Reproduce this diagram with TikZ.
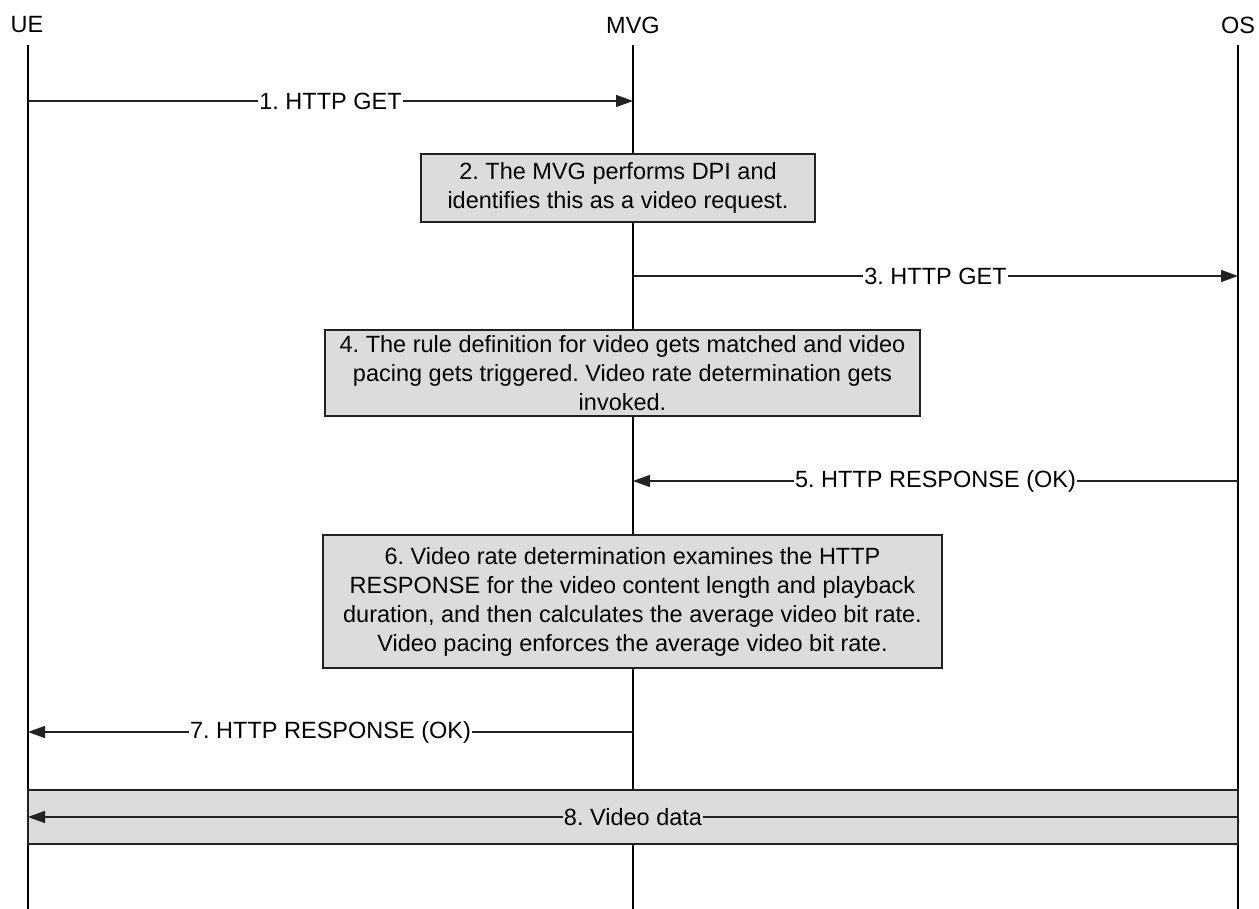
\documentclass[tikz,border=0pt]{standalone}
\usepackage{fontspec}
\setmainfont{Liberation Sans}
\usetikzlibrary{arrows.meta}
\definecolor{boxgray}{HTML}{DCDCDC}
\definecolor{edge}{HTML}{222222}
\frenchspacing
\begin{document}
\begin{tikzpicture}[x=1pt,y=-1pt,
  font=\fontsize{23.5}{29}\selectfont,
  lifeline/.style={line width=2.6pt, black},
  msg/.style={line width=1.5pt, edge, -{Triangle[length=17pt,width=12pt]}},
  lbl/.style={fill=white, inner sep=1pt, text=black, midway},
  actbox/.style={draw=edge, line width=1.5pt, fill=boxgray, align=center, inner sep=0pt},
  head/.style={inner sep=0pt}]
\useasboundingbox (0,0) rectangle (1259,909);
% heads
\node[head] (ue) at (27,25) {UE};
\node[head] (mvg) at (633,25) {MVG};
\node[head] (os) at (1238,25) {OS};
% lifeline ends
\coordinate (ueT) at (28,45);  \coordinate (ueB) at (28,909);
\coordinate (mvgT) at (633,45); \coordinate (mvgB) at (633,909);
\coordinate (osT) at (1238,45); \coordinate (osB) at (1238,909);
\draw[lifeline] (ueT) -- (ueB);
\draw[lifeline] (mvgT) -- (mvgB);
\draw[lifeline] (osT) -- (osB);
% message points
\coordinate (ue1) at (28,101);   \coordinate (mvg1) at (633,101);
\coordinate (mvg3) at (633,276); \coordinate (os3) at (1238,276);
\coordinate (os5) at (1238,481); \coordinate (mvg5) at (633,481);
\coordinate (mvg7) at (633,732); \coordinate (ue7) at (28,732);
\coordinate (os8) at (1238,817); \coordinate (ue8) at (28,817);
% boxes
\node[actbox, minimum width=394pt, minimum height=68pt] (b2) at (618,188)
  {2. The MVG performs DPI and\\identifies this as a video request.};
\node[actbox, minimum width=595pt, minimum height=86pt] (b4) at (622.5,373)
  {4. The rule definition for video gets matched and video\\pacing gets triggered. Video rate determination gets\\invoked.};
\node[actbox, minimum width=619pt, minimum height=133pt] (b6) at (632.5,601.5)
  {6. Video rate determination examines the HTTP\\RESPONSE for the video content length and playback\\duration, and then calculates the average video bit rate.\\Video pacing enforces the average video bit rate.};
\node[actbox, minimum width=1210pt, minimum height=54pt] (b8) at (633,817) {};
% messages
\draw[msg] (ue1) -- node[lbl] {1. HTTP GET} (mvg1);
\draw[msg] (mvg3) -- node[lbl] {3. HTTP GET} (os3);
\draw[msg] (os5) -- node[lbl] {5. HTTP RESPONSE (OK)} (mvg5);
\draw[msg] (mvg7) -- node[lbl] {7. HTTP RESPONSE (OK)} (ue7);
\draw[msg] (os8) -- node[lbl, fill=boxgray] {8. Video data} (ue8);
\end{tikzpicture}
\end{document}
